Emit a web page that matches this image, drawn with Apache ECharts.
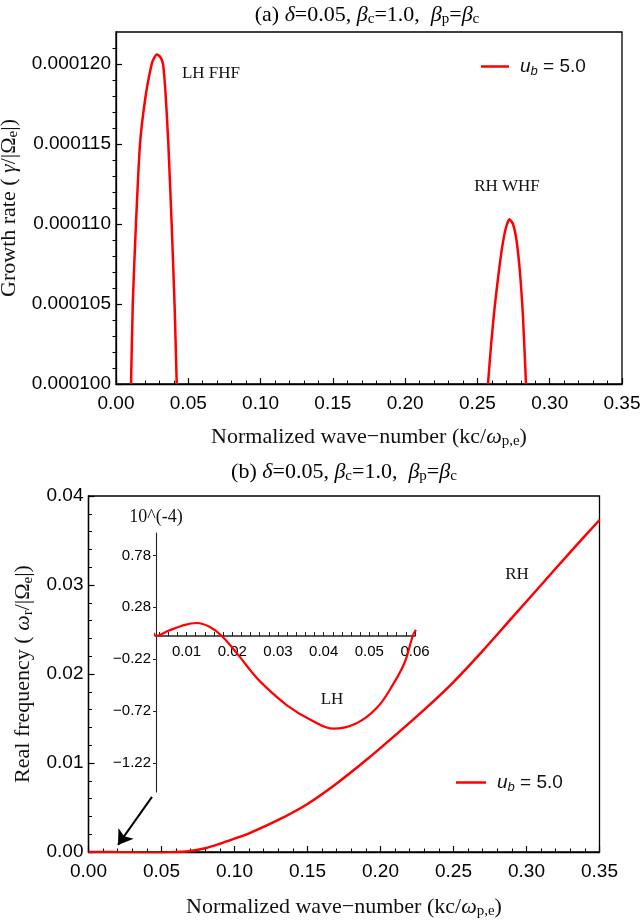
<!DOCTYPE html>
<html><head><meta charset="utf-8">
<script src="https://cdn.jsdelivr.net/npm/echarts@6/dist/echarts.min.js"></script>
<style>html,body{margin:0;padding:0;background:#fff}#c{width:641px;height:923px}</style>
</head><body><div id="c"></div>
<script>
// ---------- data ----------
const seriesName = 'u_b = 5.0';
// (a) growth rate, LH FHF branch
const lhK     = [0.0104, 0.0116, 0.0138, 0.0166, 0.0205, 0.0247, 0.0265, 0.0282, 0.0300, 0.0315, 0.0327, 0.0344, 0.0362, 0.0385, 0.0405, 0.0420];
const lhGamma = [1.000e-4, 1.050e-4, 1.100e-4, 1.150e-4, 1.180e-4, 1.200e-4, 1.204e-4, 1.206e-4, 1.205e-4, 1.203e-4, 1.199e-4, 1.180e-4, 1.150e-4, 1.100e-4, 1.050e-4, 1.000e-4];
// (a) growth rate, RH WHF branch
const rhK     = [0.2573, 0.2595, 0.2618, 0.2645, 0.2672, 0.2698, 0.2722, 0.2746, 0.2770, 0.2794, 0.2815, 0.2836];
const rhGamma = [1.000e-4, 1.025e-4, 1.047e-4, 1.068e-4, 1.086e-4, 1.098e-4, 1.103e-4, 1.100e-4, 1.090e-4, 1.070e-4, 1.042e-4, 1.000e-4];
// (b) real frequency
const freqK     = [0, 0.01, 0.02, 0.03, 0.04, 0.05, 0.06, 0.07, 0.08, 0.09, 0.10, 0.11, 0.13, 0.15, 0.17, 0.19, 0.21, 0.23, 0.25, 0.27, 0.29, 0.31, 0.33, 0.35];
const freqOmega = [0, 0.00001, -0.00002, -0.00006, -0.00009, -0.00008, 0, 0.00012, 0.00043, 0.00093, 0.0015, 0.0021, 0.0036, 0.0054, 0.0077, 0.0103, 0.0131, 0.0160, 0.0191, 0.0226, 0.0263, 0.0300, 0.0337, 0.0373];
// (b) inset, LH branch (units of 10^-4)
const insetK     = [0.0028, 0.0033, 0.006, 0.009, 0.0122, 0.015, 0.0177, 0.0216, 0.0239, 0.0265, 0.0319, 0.0372, 0.0422, 0.0471, 0.0516, 0.0552, 0.0578, 0.0595, 0.0602];
const insetOmega = [0.03, 0.0, 0.05, 0.10, 0.126, 0.09, 0.0, -0.20, -0.33, -0.46, -0.67, -0.815, -0.90, -0.85, -0.70, -0.47, -0.25, 0.0, 0.06];
// tick labels
const topYTickMinor = [0.000101,0.000102,0.000103,0.000104,0.000106,0.000107,0.000108,0.000109,0.000111,0.000112,0.000113,0.000114,0.000116,0.000117,0.000118,0.000119,0.000121];
const insetXLabels = [0.01, 0.02, 0.03, 0.04, 0.05, 0.06];
const insetXTicks  = [0.004,0.006,0.008,0.010,0.012,0.014,0.016,0.018,0.020,0.022,0.024,0.026,0.028,0.030,0.032,0.034,0.036,0.038,0.040,0.042,0.044,0.046,0.048,0.050,0.052,0.054,0.056,0.058,0.060];
const insetYLabelsPos = [0.78, 0.28];
const insetYLabelsNeg = [-0.22, -0.72, -1.22];
// arrow annotation (data units of panel b)
const arrowFrom = [0.0435, 0.0062];
const arrowTo   = [0.0202, 0.0008];

// ---------- styling ----------
const sans = 'Liberation Sans';
const serif = 'Liberation Serif';
const zip = (a, b) => a.map((v, i) => [v, b[i]]);
const serifRich = (fs) => ({
  r: {fontFamily: serif, fontSize: fs, lineHeight: 24, color: '#111'},
  i: {fontFamily: serif, fontSize: fs, fontStyle: 'italic', lineHeight: 24, color: '#111'},
  s: {fontFamily: serif, fontSize: Math.round(fs * 0.68), lineHeight: 13, verticalAlign: 'bottom', color: '#111'}
});
const legendRich = {
  u: {fontFamily: sans, fontSize: 19, fontStyle: 'italic', color: '#111', padding: [0, 0, 0, 6], lineHeight: 22},
  b: {fontFamily: sans, fontSize: 13, fontStyle: 'italic', color: '#111', verticalAlign: 'bottom', lineHeight: 13},
  n: {fontFamily: sans, fontSize: 19, color: '#111', lineHeight: 22}
};
const axisLine = {show: true, onZero: false, lineStyle: {color: '#000', width: 1.3}};
const labelStyle = {fontFamily: sans, fontSize: 19, color: '#000'};
const red = '#ff0000';
const insetLabel = {fontFamily: sans, fontSize: 15, color: '#000'};
const TFS = 22;

const chart = echarts.init(document.getElementById('c'), null, {renderer: 'canvas'});
const option = {
  animation: false,
  backgroundColor: '#fff',
  grid: [
    {left: 116, top: 32, right: 19, bottom: 539, show: true, borderColor: '#000', borderWidth: 1.3, outerBoundsMode: 'none', containLabel: false},
    {left: 88.5, top: 496, right: 41.5, bottom: 71, show: true, borderColor: '#000', borderWidth: 1.3, outerBoundsMode: 'none', containLabel: false},
    {left: 156, top: 533, right: 226, bottom: 287, show: false, outerBoundsMode: 'none', containLabel: false},
    {left: 156, top: 636, right: 226, bottom: 131, show: false, outerBoundsMode: 'none', containLabel: false}
  ],
  xAxis: [
    {gridIndex: 0, type: 'value', min: 0, max: 0.35, interval: 0.05, axisLine,
     axisTick: {inside: true, length: 6, lineStyle: {color: '#000', width: 1.2}},
     minorTick: {show: true, splitNumber: 5, length: 3.5, lineStyle: {color: '#000', width: 1}},
     axisLabel: Object.assign({formatter: v => v.toFixed(2), margin: 10}, labelStyle),
     splitLine: {show: false},
     name: '{r|Normalized wave\u2212number (kc/}{i|ω}{s|p,e}{r|)}', nameLocation: 'middle', nameGap: 41,
     nameTextStyle: {rich: serifRich(TFS)}},
    {gridIndex: 1, type: 'value', min: 0, max: 0.35, interval: 0.05, axisLine,
     axisTick: {inside: true, length: 6, lineStyle: {color: '#000', width: 1.2}},
     minorTick: {show: true, splitNumber: 5, length: 3.5, lineStyle: {color: '#000', width: 1}},
     axisLabel: Object.assign({formatter: v => v.toFixed(2), margin: 10}, labelStyle),
     splitLine: {show: false},
     name: '{r|Normalized wave\u2212number (kc/}{i|ω}{s|p,e}{r|)}', nameLocation: 'middle', nameGap: 43,
     nameTextStyle: {rich: serifRich(TFS)}},
    {gridIndex: 2, type: 'value', min: 0.0033, max: 0.06,
     axisLine: {show: true, onZero: false, lineStyle: {color: '#222', width: 1.6}},
     axisTick: {show: true, inside: true, length: 4, customValues: insetXTicks, lineStyle: {color: '#222', width: 1}},
     axisLabel: Object.assign({customValues: insetXLabels, formatter: v => v.toFixed(2), margin: 8}, insetLabel),
     splitLine: {show: false}},
    {gridIndex: 3, type: 'value', min: 0.0033, max: 0.06, show: false}
  ],
  yAxis: [
    {gridIndex: 0, type: 'value', min: 0.0001, max: 0.000122, interval: 0.000005, axisLine,
     axisTick: {inside: true, length: 6, lineStyle: {color: '#000', width: 1.2}},
     axisLabel: Object.assign({formatter: v => v.toFixed(6), margin: 5, showMaxLabel: false}, labelStyle),
     splitLine: {show: false},
     name: '{r|Growth rate ( }{i|γ}{r|/|Ω}{s|e}{r||)}', nameLocation: 'middle', nameGap: 92, nameRotate: 90,
     nameTextStyle: {rich: serifRich(TFS)}},
    {gridIndex: 0, type: 'value', min: 0.0001, max: 0.000122, axisLine: {show: false},
     axisTick: {show: true, inside: true, length: 3.5, customValues: topYTickMinor, lineStyle: {color: '#000', width: 1}},
     axisLabel: {show: false}, splitLine: {show: false}},
    {gridIndex: 1, type: 'value', min: 0, max: 0.04, interval: 0.01, axisLine,
     axisTick: {inside: true, length: 6, lineStyle: {color: '#000', width: 1.2}},
     minorTick: {show: true, splitNumber: 5, length: 3.5, lineStyle: {color: '#000', width: 1}},
     axisLabel: Object.assign({formatter: v => v.toFixed(2), margin: 5}, labelStyle),
     splitLine: {show: false},
     name: '{r|Real frequency ( }{i|ω}{s|r}{r|/|Ω}{s|e}{r||)}', nameLocation: 'middle', nameGap: 52, nameRotate: 90,
     nameTextStyle: {rich: serifRich(TFS)}},
    {gridIndex: 2, type: 'value', min: 0, max: 1.0,
     axisLine: {show: true, onZero: false, lineStyle: {color: '#222', width: 1.1}},
     axisTick: {show: true, inside: false, length: 3, customValues: insetYLabelsPos, lineStyle: {color: '#222', width: 1}},
     axisLabel: Object.assign({customValues: insetYLabelsPos, formatter: v => v.toFixed(2), margin: 5}, insetLabel),
     splitLine: {show: false},
     name: '10^(-4)', nameLocation: 'end', nameGap: 7,
     nameTextStyle: {fontFamily: serif, fontSize: 18, color: '#111'}},
    {gridIndex: 3, type: 'value', min: -1.5, max: 0,
     axisLine: {show: true, onZero: false, lineStyle: {color: '#222', width: 1.1}},
     axisTick: {show: true, inside: false, length: 3, customValues: insetYLabelsNeg, lineStyle: {color: '#222', width: 1}},
     axisLabel: Object.assign({customValues: insetYLabelsNeg, formatter: v => v.toFixed(2).replace('-', '\u2212'), margin: 5}, insetLabel),
     splitLine: {show: false}}
  ],
  legend: [
    {data: [seriesName], left: 476, top: 52, icon: 'rect', itemWidth: 28, itemHeight: 2.5, formatter: '{u|u}{b|b}{n| = 5.0}',
     textStyle: {rich: legendRich}, selectedMode: false},
    {data: [seriesName], left: 451, top: 768, icon: 'rect', itemWidth: 30, itemHeight: 2.5, formatter: '{u|u}{b|b}{n| = 5.0}',
     textStyle: {rich: legendRich}, selectedMode: false}
  ],
  graphic: [
    {type: 'text', x: 367, y: 15, style: {text: '{r|(a) }{i|δ}{r|=0.05, }{i|β}{s|c}{r|=1.0,  }{i|β}{s|p}{r|=}{i|β}{s|c}', rich: serifRich(TFS), align: 'center', verticalAlign: 'middle'}},
    {type: 'text', x: 344, y: 472, style: {text: '{r|(b) }{i|δ}{r|=0.05, }{i|β}{s|c}{r|=1.0,  }{i|β}{s|p}{r|=}{i|β}{s|c}', rich: serifRich(TFS), align: 'center', verticalAlign: 'middle'}},
    {type: 'text', x: 211, y: 74, style: {text: 'LH FHF', fontFamily: serif, fontSize: 17, fill: '#111', align: 'center', verticalAlign: 'middle'}},
    {type: 'text', x: 507, y: 187, style: {text: 'RH WHF', fontFamily: serif, fontSize: 17, fill: '#111', align: 'center', verticalAlign: 'middle'}},
    {type: 'text', x: 332, y: 700, style: {text: 'LH', fontFamily: serif, fontSize: 17, fill: '#111', align: 'center', verticalAlign: 'middle'}},
    {type: 'text', x: 517, y: 575, style: {text: 'RH', fontFamily: serif, fontSize: 17, fill: '#111', align: 'center', verticalAlign: 'middle'}}
  ],
  series: [
    {name: seriesName, type: 'line', xAxisIndex: 0, yAxisIndex: 0, data: zip(lhK, lhGamma), symbol: 'none', smooth: 0.2,
     lineStyle: {color: red, width: 2.5}, itemStyle: {color: red}, clip: true},
    {name: seriesName, type: 'line', xAxisIndex: 0, yAxisIndex: 0, data: zip(rhK, rhGamma), symbol: 'none', smooth: 0.2,
     lineStyle: {color: red, width: 2.5}, itemStyle: {color: red}, clip: true},
    {name: seriesName, type: 'line', xAxisIndex: 1, yAxisIndex: 2, data: zip(freqK, freqOmega), symbol: 'none', smooth: 0.3,
     lineStyle: {color: red, width: 2.5}, itemStyle: {color: red}, clip: true,
     markLine: {silent: true, symbol: ['none', 'arrow'], symbolSize: 14, animation: false,
       lineStyle: {color: '#000', width: 2, type: 'solid'}, label: {show: false},
       data: [[{coord: arrowFrom}, {coord: arrowTo}]]}},
    {name: seriesName, type: 'line', xAxisIndex: 2, yAxisIndex: 3, data: zip(insetK, insetOmega), symbol: 'none', smooth: 0.4,
     lineStyle: {color: red, width: 2.2}, itemStyle: {color: red}, clip: false}
  ]
};
chart.setOption(option);
</script>
</body></html>
